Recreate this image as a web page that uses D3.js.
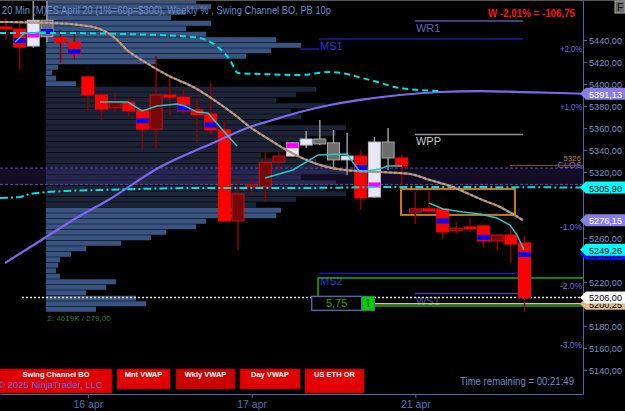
<!DOCTYPE html>
<html>
<head>
<meta charset="utf-8">
<script src="https://cdn.jsdelivr.net/npm/d3@7"></script>
<style>
html, body { margin: 0; padding: 0; background: #000; }
svg { display: block; font-family: "Liberation Sans", Arial, sans-serif; }
</style>
</head>
<body>
<div class="container"></div>
<script>
// ---- data ----
// one entry per 20 min bar
var barOpen  = [5451.8,5450,5434.5,5443,5442,5438,5406.5,5390,5378.25,5383.5,5376.5,5359,5390,5388,5376.5,5372.75,5358.25,5275.5,5306.5,5306.5,5329,5334.5,5344.5,5345.5,5331,5331,5334.5,5297.25,5332.75,5332.75,5283.5,5286.5,5286.5,5266.5,5270,5271,5257.25,5262.75,5255.5];
var barHigh  = [5460,5458,5476,5476,5449,5445.5,5407,5392,5391,5388,5377,5425.5,5404.5,5395.5,5388,5401,5366.5,5315.5,5315.5,5338,5340,5347,5357.25,5367.25,5358.25,5355.5,5340,5351.75,5360,5335.5,5301.75,5301.75,5287,5274.5,5278.25,5271.5,5263,5270,5261.75];
var barLow   = [5440,5413,5433,5438,5419,5422,5374.5,5367.5,5374.5,5370,5340,5342,5372,5373.5,5346.5,5353.5,5274.5,5249,5299,5292.75,5322,5334,5341.75,5344.5,5321.75,5317.25,5285.5,5296.5,5321.75,5308.25,5272.75,5282.75,5259,5263.5,5265.5,5251,5249,5237.25,5192.75];
var barClose = [5450,5433.5,5458,5458,5438,5426.5,5390,5377.25,5383.5,5375.5,5359,5390,5388,5375.5,5372,5358.25,5275.5,5300,5308.25,5329,5334.5,5346.5,5350,5350,5346.5,5334.5,5296.5,5347.25,5347.25,5325.5,5286.5,5284.5,5265.5,5269,5268.25,5257.25,5262.75,5254.5,5206];
// paint type from the Swing Channel BO indicator: dn, up, dr (dark red), gr (grey)
var barPaint = ["dn","dn","up","gr","dn","dn","dn","dn","dr","dn","dn","dr","dn","dn","dn","dn","dn","dr","dr","dr","dr","up","up","gr","gr","up","dn","up","gr","dn","dr","dn","dn","dr","dn","dn","dr","dn","dn"];
// marker stripes inside bodies [bar, price, kind]
var barMarks = [[1,5439.5,"b"],[2,5444.5,"m"],[3,5447.7,"b"],[5,5429.5,"b"],[10,5366.5,"b"],[13,5378.25,"b"],[15,5362.75,"b"],[21,5344,"m"],[26,5324,"b"],[27,5308.25,"m"],[32,5275.5,"b"],[35,5260.5,"b"],[38,5245,"b"]];

var dateTicks = [6, 18, 30];
var dateLabels = ["16 apr", "17 apr", "21 apr"];

// indicator lines as [bar index, price]
var weeklyVwap = [[-0.07,5237.3],[2.49,5257.3],[4.91,5276.4],[7.62,5295.5],[11.29,5324.5],[15.17,5346.4],[17.88,5360.9],[19.57,5367.3],[21.55,5374.5],[23.74,5380.9],[25.94,5385.5],[28.87,5390],[31.81,5392.7],[34.74,5393.6],[37.67,5392.7],[40.6,5391.8],[42.29,5391.13]];
var dayVwap = [[-0.44,5456.4],[3.22,5455.5],[5.42,5453.6],[6.89,5450],[7.99,5441.8],[8.87,5430.9],[10.19,5420],[11.8,5408.2],[13.85,5396.4],[15.46,5383.6],[16.78,5371.8],[17.88,5360.9],[19.35,5349.1],[20.81,5338.2],[21.55,5333.6],[23.01,5326.4],[24.84,5321.8],[27.41,5320],[29.61,5318.2],[31.07,5312.7],[32.54,5307.3],[34.74,5295.5],[36.2,5288.2],[37.89,5276.15]];
var upperBand = [[-0.44,5446.4],[3.96,5446.4],[8.35,5445.5],[12.75,5443.6],[14.22,5441.8],[15.32,5435.5],[16.42,5421.8],[17.0,5410],[18.61,5409.1],[21.55,5408.2],[23.74,5410.9],[26.68,5403.6],[28.87,5396.4],[31.81,5393.6]];
var lowerBand = [[-0.44,5296.4],[1.03,5297.3],[1.76,5300],[4.32,5302.7],[6.89,5303.6],[14.22,5305.5],[21.55,5305.5],[28.87,5306.4],[42.29,5305.9]];
var swingSegs = [
  [[0.66,5438],[1.32,5446],[2.9,5447.3]],
  [[6.89,5383.6],[8.94,5383.6],[9.97,5375.5],[11.07,5380],[12.53,5381.8],[13.12,5380],[14.0,5374.5],[14.8,5373.6],[16.2,5353.6],[16.93,5343.6]],
  [[18.98,5314.5],[21.03,5321.8],[22.87,5335.5],[24.99,5336.4],[25.94,5320],[27.41,5322.7],[27.92,5325.5],[29.02,5325.5]],
  [[31.0,5291.8],[32.03,5286.4],[33.49,5283.6],[34.74,5281.8],[35.98,5278.2],[36.94,5271.8],[37.45,5262.7],[37.96,5249.26]]
];

// pivot levels
var pivotNames  = ["WR1", "MS1", "WPP", "MS2", "WS1"];
var pivotPrices = [5457.3, 5440.9, 5354.1, 5227.7, 5209.5];
var pivotFrom   = [29.97, 22.94, 29.97, 22.94, 29.97];
var pivotTo     = [37.9, 37.9, 37.9, 37.9, 37.9];

// volume profile, 5 point rows
var profilePrice = d3.range(5475, 5194, -5);
var profileVol = [150,165,140,125,165,140,160,230,255,225,200,110,12,6,10,30,270,250,230,280,245,255,215,300,290,260,235,250,215,270,285,300,255,290,280,300,250,210,235,230,160,150,120,105,75,40,25,14,12,10,14,70,60,40,90,100,50];
var valueAreaHigh = 5397.5, valueAreaLow = 5287.5;

var pctLabels = ["+2.0%", "+1,0%", "-1.0%", "-2.0%", "-3.0%"];
var pctPrices = [5433, 5380, 5271, 5217, 5164];

// axis price tags [price, kind]
var tagPrices = [5391.13, 5305.90, 5276.15, 5245.75, 5249.26, 5200.25, 5206];
var tagKinds  = ["vw", "band", "vw", "blue", "band", "tan", "last"];

var lastPrice = 5206, prevClose = 5326;

// ---- layout ----
var width = 625, height = 411, axisX = 583, axisY = 394;

var svg = d3.select("div.container").append("svg")
    .attr("width", width)
    .attr("height", height);

svg.append("rect").attr("width", width).attr("height", height).attr("fill", "#000");

var x = d3.scaleLinear().domain([-0.4397, 42.286]).range([0, axisX]);
var y = d3.scaleLinear().domain([5476.36, 5118.18]).range([0, axisY]);

var plot = svg.append("g");
plot.append("clipPath").attr("id", "clip").append("rect")
    .attr("width", axisX).attr("height", axisY);
plot.attr("clip-path", "url(#clip)");

// volume profile
var rowH = Math.abs(y(0) - y(5));
plot.selectAll(".vp")
    .data(profilePrice)
    .enter().append("rect")
    .attr("class", "vp")
    .attr("x", x(2.93))
    .attr("y", function(d) { return y(d) - rowH / 2; })
    .attr("height", rowH - 0.5)
    .attr("width", function(d, i) { return profileVol[i]; })
    .attr("fill", function(d) { return (d <= valueAreaHigh && d >= valueAreaLow) ? "#1c2336" : "#3a5482"; });

// prior close zone
plot.append("rect")
    .attr("x", 0).attr("width", axisX)
    .attr("y", y(5323.6)).attr("height", y(5308.7) - y(5323.6))
    .attr("fill", "rgba(80,60,170,0.22)");
[5323.6, 5308.7].forEach(function(p) {
    plot.append("line").attr("x1", 0).attr("x2", axisX)
        .attr("y1", y(p)).attr("y2", y(p))
        .attr("stroke", "#5548b0").attr("stroke-dasharray", "3,2");
});
plot.append("line").attr("x1", 510).attr("x2", axisX)
    .attr("y1", y(prevClose)).attr("y2", y(prevClose))
    .attr("stroke", "#b07020").attr("stroke-width", 0.8);

// pivots
var pivotColor = {"WR1": "#5a50a8", "MS1": "#1a1aa8", "WPP": "#909090", "MS2": "#1a1aa8", "WS1": "#4a4098"};
var pivotText = {"WR1": "#6a62b8", "MS1": "#2434d8", "WPP": "#c8c8c8", "MS2": "#2434d8", "WS1": "#5a50b0"};
pivotNames.forEach(function(n, i) {
    plot.append("line")
        .attr("x1", x(pivotFrom[i])).attr("x2", x(pivotTo[i]))
        .attr("y1", y(pivotPrices[i])).attr("y2", y(pivotPrices[i]))
        .attr("stroke", pivotColor[n]).attr("stroke-width", 1.5);
    plot.append("text")
        .attr("x", x(pivotFrom[i]) + 1).attr("y", y(pivotPrices[i]) + 11)
        .attr("fill", pivotText[n]).attr("font-size", 11)
        .text(n);
});
// previous MS1 stub
plot.append("line").attr("x1", x(21.55)).attr("x2", x(22.94))
    .attr("y1", y(5431.8)).attr("y2", y(5431.8))
    .attr("stroke", "#1a1aa8").attr("stroke-width", 1.5);

// ETH OR lines
plot.append("path")
    .attr("d", "M" + x(22.87) + "," + y(5206) + "V" + y(5223.6) + "H" + axisX)
    .attr("fill", "none").attr("stroke", "#10b010").attr("stroke-width", 1.5);
plot.append("line").attr("x1", x(26.9)).attr("x2", axisX)
    .attr("y1", y(5198.2)).attr("y2", y(5198.2))
    .attr("stroke", "#10b010").attr("stroke-width", 1.5);
plot.append("line").attr("x1", x(26.9)).attr("x2", axisX)
    .attr("y1", y(5200.25)).attr("y2", y(5200.25))
    .attr("stroke", "#e0c090").attr("stroke-width", 1.5);
// last price dotted
plot.append("line").attr("x1", 22).attr("x2", axisX)
    .attr("y1", y(lastPrice)).attr("y2", y(lastPrice))
    .attr("stroke", "#e8e8e8").attr("stroke-width", 1.5).attr("stroke-dasharray", "2,2");

// orange box
plot.append("rect")
    .attr("x", x(28.95)).attr("y", y(5304.5))
    .attr("width", x(37.3) - x(28.95)).attr("height", y(5281) - y(5304.5))
    .attr("fill", "none").attr("stroke", "#d07818").attr("stroke-width", 2);

// candles
var bw = 12;
var wickCol = {dn: "#8e0000", dr: "#8e0000", up: "#9a9a9a", gr: "#9a9a9a"};
var bodyFill = {dn: "#ff0000", dr: "#760808", up: "#e8e8f4", gr: "#6c6c6c"};
var bodyLine = {dn: "#ff0000", dr: "#d01010", up: "#b8b8c8", gr: "#a8a8a8"};

var bars = plot.selectAll(".bar")
    .data(barOpen)
    .enter().append("g")
    .attr("class", "bar");

bars.append("line")
    .attr("x1", function(d, i) { return x(i); })
    .attr("x2", function(d, i) { return x(i); })
    .attr("y1", function(d, i) { return y(barHigh[i]); })
    .attr("y2", function(d, i) { return y(barLow[i]); })
    .attr("stroke", function(d, i) { return wickCol[barPaint[i]]; })
    .attr("stroke-width", 1.5);

bars.append("rect")
    .attr("x", function(d, i) { return x(i) - bw / 2; })
    .attr("y", function(d, i) { return y(Math.max(d, barClose[i])); })
    .attr("width", bw)
    .attr("height", function(d, i) { return Math.max(1.5, y(Math.min(d, barClose[i])) - y(Math.max(d, barClose[i]))); })
    .attr("fill", function(d, i) { return bodyFill[barPaint[i]]; })
    .attr("stroke", function(d, i) { return bodyLine[barPaint[i]]; })
    .attr("stroke-width", 1);

plot.selectAll(".mark")
    .data(barMarks)
    .enter().append("rect")
    .attr("class", "mark")
    .attr("x", function(d) { return x(d[0]) - bw / 2; })
    .attr("y", function(d) { return y(d[1]) - 2.5; })
    .attr("width", bw)
    .attr("height", 5)
    .attr("fill", function(d) { return d[2] == "b" ? "#0000ff" : "#ff00ff"; });

// indicator lines
var line = d3.line()
    .x(function(d) { return x(d[0]); })
    .y(function(d) { return y(d[1]); })
    .curve(d3.curveMonotoneX);

plot.append("path").datum(weeklyVwap).attr("d", line)
    .attr("fill", "none").attr("stroke", "#7b68ee").attr("stroke-width", 2.2);
plot.append("path").datum(lowerBand).attr("d", line)
    .attr("fill", "none").attr("stroke", "#00e0e0").attr("stroke-width", 2)
    .attr("stroke-dasharray", "8,3,2,3");
plot.append("path").datum(upperBand).attr("d", line)
    .attr("fill", "none").attr("stroke", "#00e0e0").attr("stroke-width", 2)
    .attr("stroke-dasharray", "6,4");
plot.append("path").datum(dayVwap).attr("d", line)
    .attr("fill", "none").attr("stroke", "#8c8c9c").attr("stroke-width", 2);
plot.append("path").datum(dayVwap).attr("d", line)
    .attr("fill", "none").attr("stroke", "#d49a60").attr("stroke-width", 2)
    .attr("stroke-dasharray", "3,2");

var sline = d3.line()
    .x(function(d) { return x(d[0]); })
    .y(function(d) { return y(d[1]); });
swingSegs.forEach(function(s) {
    plot.append("path").datum(s).attr("d", sline)
        .attr("fill", "none").attr("stroke", "#20c8c8").attr("stroke-width", 1.5);
});

// position box
var bx = x(22.4);
plot.append("rect").attr("x", bx).attr("y", y(5206) - 1).attr("width", 50).attr("height", 14)
    .attr("fill", "#000").attr("stroke", "#4a6a9a").attr("stroke-width", 1.5);
plot.append("text").attr("x", bx + 25).attr("y", y(5206) + 10).attr("text-anchor", "middle")
    .attr("fill", "#18a018").attr("font-size", 11).text("5,75");
plot.append("rect").attr("x", bx + 50).attr("y", y(5206) - 1).attr("width", 13).attr("height", 14)
    .attr("fill", "#00d000").attr("stroke", "#4a6a9a").attr("stroke-width", 1);
plot.append("text").attr("x", bx + 56.5).attr("y", y(5206) + 10).attr("text-anchor", "middle")
    .attr("fill", "#085008").attr("font-size", 10).text("1");

// profile summary
plot.append("text").attr("x", 47).attr("y", 321)
    .attr("fill", "#1f7a1f").attr("font-size", 8).text("Σ: 4619K / 279,00");

// prior close label
plot.append("text").attr("x", 581).attr("y", y(prevClose) - 4).attr("text-anchor", "end")
    .attr("fill", "#c08030").attr("font-size", 8).text("5326");
plot.append("text").attr("x", 582).attr("y", y(prevClose) + 3).attr("text-anchor", "end")
    .attr("fill", "#7a6ae0").attr("font-size", 9).text("CLOS");

// weekly % labels
pctLabels.forEach(function(t, i) {
    plot.append("text").attr("x", 560).attr("y", y(pctPrices[i]) + 4)
        .attr("fill", "#7a6ae0").attr("font-size", 9.5)
        .attr("textLength", 22).attr("lengthAdjust", "spacingAndGlyphs").text(t);
});

// ---- axes ----
// tick labels sitting under a price tag are not drawn (as in the platform)
var tickVals = d3.range(5140, 5441, 20).filter(function(v) {
    return tagPrices.every(function(p) { return Math.abs(y(v) - y(p)) > 7; });
});
var yAxis = svg.append("g")
    .attr("transform", "translate(" + axisX + ",0)")
    .call(d3.axisRight(y)
        .tickValues(tickVals)
        .tickSize(4).tickSizeOuter(0)
        .tickFormat(function(d) { return d3.format(".2f")(d).replace(".", ","); }));
yAxis.select(".domain").attr("stroke", "#4a6aa8");
yAxis.selectAll(".tick line").attr("stroke", "#4a6aa8");
yAxis.selectAll(".tick text").attr("fill", "#7090c8").attr("font-size", 9.6)
    .attr("font-family", "Liberation Sans, Arial, sans-serif").attr("x", 6)
    .attr("textLength", 33).attr("lengthAdjust", "spacingAndGlyphs");

var xAxis = svg.append("g")
    .attr("transform", "translate(0," + axisY + ")")
    .call(d3.axisBottom(x)
        .tickValues(dateTicks)
        .tickSize(4).tickSizeOuter(0)
        .tickFormat(function(d, i) { return dateLabels[i]; }));
xAxis.select(".domain").attr("stroke", "#4a6aa8");
xAxis.selectAll(".tick line").attr("stroke", "#4a6aa8");
xAxis.selectAll(".tick text").attr("fill", "#4a74b8").attr("font-size", 10.5)
    .attr("font-family", "Liberation Sans, Arial, sans-serif");

// price tags on the axis
var tagBg = {vw: "#8a7ee0", band: "#00ffff", blue: "#1010ff", tan: "#dcbc8c", last: "#ffffff"};
var tagFg = {vw: "#fff", band: "#000", blue: "#000", tan: "#000", last: "#000"};
tagPrices.forEach(function(price, i) {
    var yy = y(price), k = tagKinds[i];
    svg.append("path")
        .attr("d", "M580," + yy + "L586," + (yy - 6) + "H625V" + (yy + 6) + "H586Z")
        .attr("fill", tagBg[k]);
    svg.append("text").attr("x", 589).attr("y", yy + 4)
        .attr("fill", tagFg[k]).attr("font-size", 9.6)
        .attr("textLength", 33).attr("lengthAdjust", "spacingAndGlyphs")
        .text(d3.format(".2f")(price).replace(".", ","));
});

// ---- header ----
svg.append("line").attr("x1", 0).attr("x2", width).attr("y1", 0.5).attr("y2", 0.5).attr("stroke", "#555");
svg.append("text").attr("x", 2).attr("y", 14)
    .attr("fill", "#6a8cc8").attr("font-size", 11)
    .attr("textLength", 329).attr("lengthAdjust", "spacingAndGlyphs")
    .text("20 Min (M)ES April 20 (1%=60p=$300), Weekly % , Swing Channel BO, PB 10p");
svg.append("text").attr("x", 488).attr("y", 17)
    .attr("fill", "#ff1414").attr("font-size", 11).attr("font-weight", "bold")
    .attr("textLength", 87).attr("lengthAdjust", "spacingAndGlyphs")
    .text("W -2,01% = -106,75");
svg.append("rect").attr("x", 615).attr("y", 1).attr("width", 10).attr("height", 12)
    .attr("fill", "#6a6a6a").attr("stroke", "#aaa");
svg.append("text").attr("x", 617).attr("y", 11).attr("fill", "#111").attr("font-size", 10).text("F");

// ---- bottom buttons ----
var buttons = [
    {label: "Swing Channel BO", x: 0, w: 112, h: 24, fill: "#e00000"},
    {label: "Mnt VWAP", x: 117, w: 53, h: 20, fill: "#e00000"},
    {label: "Wkly VWAP", x: 176, w: 59, h: 20, fill: "#c80000"},
    {label: "Day VWAP", x: 240, w: 60, h: 20, fill: "#e00000"},
    {label: "US ETH OR", x: 305, w: 59, h: 24, fill: "#e00000"}
];
buttons.forEach(function(b) {
    svg.append("rect").attr("x", b.x).attr("y", 369).attr("width", b.w).attr("height", b.h)
        .attr("fill", b.fill).attr("stroke", "#900").attr("stroke-width", 0.5);
    svg.append("text").attr("x", b.x + b.w / 2).attr("y", 377).attr("text-anchor", "middle")
        .attr("fill", "#fff").attr("font-size", 7.5).attr("font-weight", "bold").text(b.label);
});
svg.append("text").attr("x", -2).attr("y", 388)
    .attr("fill", "#5a6ae8").attr("font-size", 9.5).text("© 2025 NinjaTrader, LLC");

svg.append("text").attr("x", 460).attr("y", 385)
    .attr("fill", "#6a8cc8").attr("font-size", 11)
    .attr("textLength", 114).attr("lengthAdjust", "spacingAndGlyphs")
    .text("Time remaining = 00:21:49");
</script>
</body>
</html>
